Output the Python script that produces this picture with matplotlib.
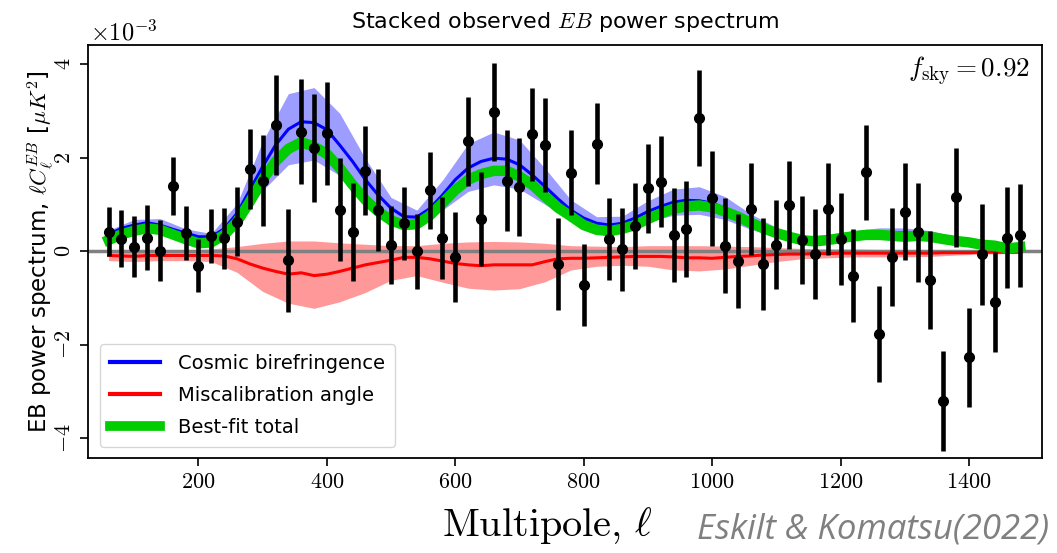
import matplotlib
matplotlib.use("Agg")
import matplotlib.pyplot as plt
from matplotlib.ticker import FuncFormatter
from matplotlib.lines import Line2D

plt.rcParams['mathtext.fontset'] = 'cm'
plt.rcParams['font.family'] = ['DejaVu Sans']

# multipole bins (data points and model curves)
ell = list(range(60, 1500, 20))

# stacked observed EB spectrum, units of 1e-3 muK^2
obs = [0.42, 0.27, 0.10, 0.29, 0.01, 1.40, 0.39, -0.31, 0.33, 0.28,
       0.63, 1.76, 1.51, 2.70, -0.19, 2.56, 2.21, 2.52, 0.89, 0.42,
       1.72, 0.88, 0.13, 0.60, 0.00, 1.30, 0.28, -0.12, 2.35, 0.69,
       2.97, 1.51, 1.38, 2.50, 2.27, -0.27, 1.68, -0.72, 2.30, 0.26,
       0.04, 0.54, 1.35, 1.49, 0.35, 0.48, 2.85, 1.13, 0.12, -0.21,
       0.90, -0.27, 0.14, 0.99, 0.24, -0.06, 0.91, 0.26, -0.52, 1.69,
       -1.77, -0.12, 0.85, 0.41, -0.62, -3.20, 1.15, -2.27, -0.06, -1.08,
       0.29, 0.34]
err = [0.52, 0.61, 0.66, 0.69, 0.65, 0.62, 0.58, 0.57, 0.58, 0.65,
       0.74, 0.85, 0.98, 1.07, 1.10, 1.12, 1.15, 1.10, 1.10, 1.05,
       0.95, 0.87, 0.84, 0.78, 0.80, 0.83, 0.88, 0.97, 0.95, 1.00,
       1.05, 1.08, 1.05, 1.00, 1.00, 0.98, 0.91, 0.88, 0.87, 0.87,
       0.88, 0.92, 0.95, 0.98, 1.00, 1.02, 1.02, 1.01, 1.02, 1.00,
       0.98, 0.98, 0.95, 0.95, 0.95, 0.96, 0.98, 0.98, 1.00, 1.02,
       1.02, 1.04, 1.04, 1.06, 1.05, 1.06, 1.06, 1.05, 1.08, 1.07,
       1.08, 1.10]

# model curves
cosmic = [0.36, 0.49, 0.56, 0.61, 0.56, 0.47, 0.39, 0.31, 0.31, 0.48,
          0.81, 1.31, 1.81, 2.27, 2.61, 2.77, 2.75, 2.60, 2.27, 1.92,
          1.53, 1.20, 0.92, 0.74, 0.73, 0.91, 1.20, 1.53, 1.78, 1.92,
          1.99, 1.97, 1.85, 1.63, 1.38, 1.12, 0.88, 0.71, 0.60, 0.56,
          0.60, 0.71, 0.85, 0.96, 1.05, 1.09, 1.08, 1.03, 0.92, 0.78,
          0.63, 0.51, 0.40, 0.31, 0.26, 0.25, 0.28, 0.30, 0.34, 0.38,
          0.39, 0.40, 0.39, 0.38, 0.34, 0.30, 0.24, 0.20, 0.15, 0.12,
          0.08, 0.09]
miscal = [-0.09, -0.10, -0.11, -0.09, -0.09, -0.09, -0.09, -0.09, -0.09, -0.10,
          -0.16, -0.27, -0.36, -0.43, -0.49, -0.46, -0.52, -0.49, -0.43, -0.36,
          -0.29, -0.24, -0.19, -0.13, -0.13, -0.16, -0.21, -0.26, -0.29, -0.31,
          -0.29, -0.29, -0.29, -0.29, -0.22, -0.16, -0.15, -0.15, -0.14, -0.13,
          -0.12, -0.11, -0.11, -0.11, -0.12, -0.14, -0.14, -0.15, -0.13, -0.11,
          -0.10, -0.08, -0.07, -0.06, -0.06, -0.05, -0.05, -0.04, -0.04, -0.04,
          -0.04, -0.04, -0.04, -0.04, -0.04, -0.03, -0.03, -0.03, -0.02, -0.02,
          -0.02, -0.02]
total = [0.24, 0.36, 0.44, 0.49, 0.46, 0.36, 0.26, 0.17, 0.19, 0.35,
         0.63, 1.06, 1.53, 1.92, 2.19, 2.33, 2.24, 2.08, 1.78, 1.42,
         1.10, 0.85, 0.66, 0.56, 0.58, 0.76, 1.03, 1.31, 1.53, 1.65,
         1.72, 1.72, 1.60, 1.42, 1.17, 0.93, 0.75, 0.56, 0.46, 0.43,
         0.48, 0.56, 0.69, 0.81, 0.91, 0.96, 0.98, 0.94, 0.85, 0.74,
         0.61, 0.49, 0.39, 0.31, 0.24, 0.21, 0.24, 0.28, 0.32, 0.35,
         0.35, 0.33, 0.31, 0.33, 0.31, 0.26, 0.22, 0.19, 0.14, 0.12,
         0.06, 0.09]

# uncertainty bands
ell_band = list(range(60, 1500, 40)) + [1480]
cosmic_lo = [0.28, 0.45, 0.44, 0.30, 0.24, 0.60, 1.30, 1.85, 1.95, 1.62, 1.10, 0.70,
             0.57, 0.88, 1.28, 1.42, 1.33, 1.00, 0.66, 0.46, 0.45, 0.63, 0.77, 0.79,
             0.68, 0.47, 0.30, 0.20, 0.21, 0.25, 0.28, 0.28, 0.25, 0.17, 0.11, 0.06, 0.06]
cosmic_hi = [0.45, 0.68, 0.70, 0.48, 0.38, 1.02, 2.35, 3.37, 3.50, 2.95, 1.98, 1.15,
             0.88, 1.52, 2.30, 2.55, 2.38, 1.77, 1.10, 0.74, 0.75, 1.08, 1.33, 1.38,
             1.17, 0.80, 0.51, 0.33, 0.36, 0.44, 0.50, 0.50, 0.44, 0.31, 0.19, 0.11, 0.11]
miscal_lo = [-0.20, -0.22, -0.20, -0.20, -0.22, -0.45, -0.86, -1.11, -1.22, -1.08, -0.88, -0.62,
             -0.52, -0.66, -0.79, -0.83, -0.80, -0.65, -0.40, -0.32, -0.30, -0.32, -0.40, -0.42,
             -0.38, -0.30, -0.22, -0.16, -0.14, -0.12, -0.12, -0.12, -0.11, -0.08, -0.06, -0.05, -0.05]
miscal_hi = [0.02, 0.03, 0.03, 0.03, 0.05, 0.10, 0.17, 0.22, 0.22, 0.18, 0.15, 0.12,
             0.12, 0.17, 0.20, 0.21, 0.20, 0.17, 0.12, 0.11, 0.10, 0.12, 0.12, 0.12,
             0.11, 0.10, 0.08, 0.06, 0.05, 0.05, 0.04, 0.04, 0.04, 0.03, 0.02, 0.02, 0.02]

fig = plt.figure(figsize=(10.57, 5.53), dpi=100)
ax = fig.add_axes([0.0833, 0.1718, 0.9026, 0.7468])

ax.fill_between(ell_band, miscal_lo, miscal_hi, color='#ff9999', lw=0, zorder=1)
ax.fill_between(ell_band, cosmic_lo, cosmic_hi, color='#9d9dff', lw=0, zorder=1)
ax.axhline(0, color='gray', lw=2.5, zorder=2)
ax.plot(ell, cosmic, color='blue', lw=2.2, zorder=3)
ax.plot(ell, miscal, color='red', lw=2.2, zorder=3)
ax.plot(ell, total, color='#00cc00', lw=7.5, zorder=4)
ax.errorbar(ell, obs, yerr=err, fmt='o', color='black', ms=7, elinewidth=3.3,
            capsize=0, zorder=5)

ax.set_xlim(28, 1514)
ax.set_ylim(-4.42, 4.41)
ax.set_xticks([200, 400, 600, 800, 1000, 1200, 1400])
ax.set_yticks([-4, -2, 0, 2, 4])
fmt = FuncFormatter(lambda v, p: r'$%d$' % v)
ax.xaxis.set_major_formatter(fmt)
ax.yaxis.set_major_formatter(fmt)
ax.tick_params(direction='out', length=6, width=1.2, labelsize=16, pad=4)
for lab in ax.get_yticklabels():
    lab.set_rotation(90)
    lab.set_va('center')
for s in ax.spines.values():
    s.set_linewidth(1.3)

ax.text(0.987, 0.935, r'$f_{\rm sky} = 0.92$', transform=ax.transAxes,
        ha='right', va='center', fontsize=19.5)

handles = [Line2D([], [], color='blue', lw=3),
           Line2D([], [], color='red', lw=3),
           Line2D([], [], color='#00cc00', lw=7)]
ax.legend(handles, ['Cosmic birefringence', 'Miscalibration angle', 'Best-fit total'],
          loc='lower left', bbox_to_anchor=(0.0126, 0.027), borderaxespad=0,
          fontsize=14, handlelength=2.6, handletextpad=0.9, labelspacing=0.68,
          borderpad=0.5)

fig.text(0.085, 0.94, r'$\times10^{-3}$', fontsize=17.5, ha='left', va='center')
fig.text(0.5345, 0.96, r'Stacked observed $EB$ power spectrum', fontsize=16,
         ha='center', va='center')
fig.text(0.038, 0.545, r'EB power spectrum, $\ell C_\ell^{EB}$ [$\mu K^2$]',
         fontsize=16.5, rotation=90, ha='center', va='center')
fig.text(0.5175, 0.05, r'$\mathrm{Multipole,}\,\ell$', fontsize=29,
         ha='center', va='center')
fig.text(0.659, 0.042, 'Eskilt & Komatsu(2022)', fontsize=25, style='italic',
         color='#808080', family='Open Sans', ha='left', va='center')

fig.savefig('out.png', dpi=100)
